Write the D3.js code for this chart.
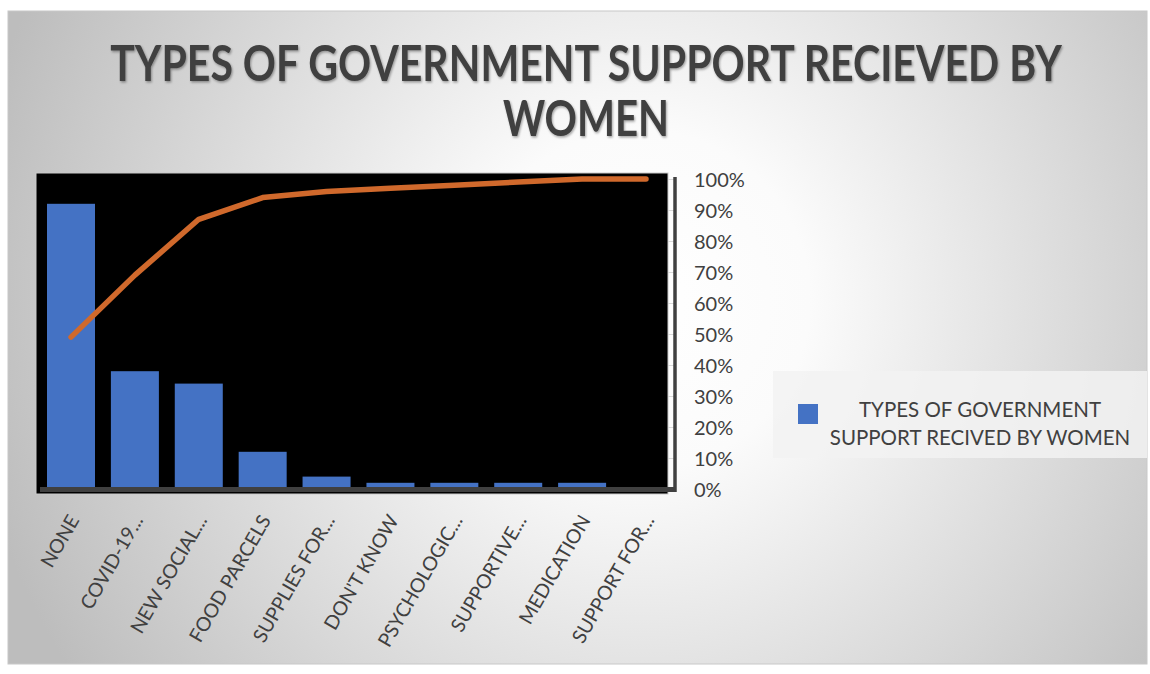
<!DOCTYPE html>
<html>
<head>
<meta charset="utf-8">
<script src="https://cdn.jsdelivr.net/npm/d3@7"></script>
<style>
  html, body { margin: 0; padding: 0; background: #ffffff; }
  svg { display: block; }
  text { font-family: Lato, "Open Sans", "DejaVu Sans", sans-serif; }
</style>
</head>
<body>
<svg id="chart" width="1150" height="674"></svg>
<script>
// ---- data ----
const categories = ["NONE", "COVID-19...", "NEW SOCIAL...", "FOOD PARCELS", "SUPPLIES FOR...",
                    "DON'T KNOW", "PSYCHOLOGIC...", "SUPPORTIVE...", "MEDICATION", "SUPPORT FOR..."];
const counts = [46, 19, 17, 6, 2, 1, 1, 1, 1, 0];
const cumulativePct = [0.49, 0.69, 0.87, 0.94, 0.96, 0.97, 0.98, 0.99, 1.00, 1.00];
const pctTicks = [0, 0.1, 0.2, 0.3, 0.4, 0.5, 0.6, 0.7, 0.8, 0.9, 1.0];
const titleLines = ["TYPES OF GOVERNMENT SUPPORT RECIEVED BY", "WOMEN"];
const titleWidths = [952, 166];
const legendLines = ["TYPES OF GOVERNMENT", "SUPPORT RECIVED BY WOMEN"];

const svg = d3.select("#chart");
const defs = svg.append("defs");

// background gradient
const grad = defs.append("radialGradient").attr("id", "bg")
  .attr("gradientUnits", "userSpaceOnUse")
  .attr("cx", 640).attr("cy", 300).attr("r", 680);
grad.append("stop").attr("offset", "0").attr("stop-color", "#ffffff");
grad.append("stop").attr("offset", "0.25").attr("stop-color", "#fbfbfb");
grad.append("stop").attr("offset", "1").attr("stop-color", "#bdbdbd");

const shadow = defs.append("filter").attr("id", "tshadow")
  .attr("x", "-5%").attr("y", "-20%").attr("width", "110%").attr("height", "140%");
shadow.append("feDropShadow").attr("dx", 1).attr("dy", 1.5).attr("stdDeviation", 1)
  .attr("flood-color", "#000").attr("flood-opacity", 0.35);

svg.append("rect").attr("x", 8).attr("y", 11).attr("width", 1139).attr("height", 653)
  .attr("fill", "url(#bg)").attr("stroke", "#c8c8c8").attr("stroke-width", 1);

// title (condensed by horizontal scaling to mimic a narrow bold face)
const title = svg.append("g").attr("filter", "url(#tshadow)");
title.selectAll("text").data(titleLines).join("text")
  .attr("text-anchor", "middle")
  .attr("font-size", 40).attr("font-weight", 700).attr("fill", "#404040")
  .text(d => d)
  .each(function(d, i) {
    const w = this.getComputedTextLength();
    const sx = titleWidths[i] / w;
    d3.select(this).attr("transform", `translate(586,${81 + i * 55}) scale(${sx},1.25)`);
  });

// plot area
const plot = { left: 36, top: 173, right: 668, bottom: 494 };
svg.append("rect").attr("x", plot.left).attr("y", plot.top)
  .attr("width", plot.right - plot.left).attr("height", plot.bottom - plot.top)
  .attr("fill", "#000000").attr("stroke", "#c9c9c9").attr("stroke-width", 1);

const x = d3.scalePoint().domain(categories).range([71, 646]);
const barW = 48;
const yPct = d3.scaleLinear().domain([0, 1]).range([489, 179]);
const yCount = d3.scaleLinear().domain([0, 50]).range([489, 179]);

// bars
svg.append("g").selectAll("rect").data(counts).join("rect")
  .attr("x", (d, i) => x(categories[i]) - barW / 2)
  .attr("y", d => yCount(d))
  .attr("width", barW)
  .attr("height", d => yCount(0) - yCount(d))
  .attr("fill", "#4472C4");

// right axis
const axisG = svg.append("g").attr("transform", "translate(675,0)")
  .call(d3.axisLeft(yPct).tickValues(pctTicks).tickSize(7).tickFormat(""));
axisG.select(".domain").remove();
axisG.selectAll(".tick line").attr("stroke", "#d9d9d9").attr("stroke-width", 1);
svg.append("line").attr("x1", 675).attr("x2", 675).attr("y1", 177).attr("y2", 492)
  .attr("stroke", "#404040").attr("stroke-width", 3.5);
svg.append("g").selectAll("text").data(pctTicks).join("text")
  .attr("x", 694).attr("y", d => yPct(d) + 8)
  .attr("font-size", 20).attr("fill", "#404040")
  .text(d3.format(".0%"));

// baseline
svg.append("line").attr("x1", 40).attr("x2", 676).attr("y1", yCount(0) + 0.5).attr("y2", yCount(0) + 0.5)
  .attr("stroke", "#404040").attr("stroke-width", 5);

// cumulative line
const line = d3.line().x((d, i) => x(categories[i])).y(d => yPct(d));
svg.append("path").datum(cumulativePct)
  .attr("d", line).attr("fill", "none")
  .attr("stroke", "#D0692C").attr("stroke-width", 5.5)
  .attr("stroke-linejoin", "round").attr("stroke-linecap", "round");

// category labels
svg.append("g").selectAll("text").data(categories).join("text")
  .attr("transform", d => `translate(${x(d) + 9},${520}) rotate(-60)`)
  .attr("text-anchor", "end")
  .attr("font-size", 19.5).attr("fill", "#404040")
  .text(d => d);

// legend
svg.append("rect").attr("x", 773).attr("y", 371).attr("width", 374).attr("height", 87)
  .attr("fill", "#f2f2f2").attr("fill-opacity", 0.85);
svg.append("rect").attr("x", 798).attr("y", 404).attr("width", 20).attr("height", 20)
  .attr("fill", "#4472C4");
svg.append("g").selectAll("text").data(legendLines).join("text")
  .attr("x", 980).attr("y", (d, i) => 417 + i * 28)
  .attr("text-anchor", "middle")
  .attr("font-size", 20.5).attr("fill", "#404040")
  .text(d => d);
</script>
</body>
</html>
